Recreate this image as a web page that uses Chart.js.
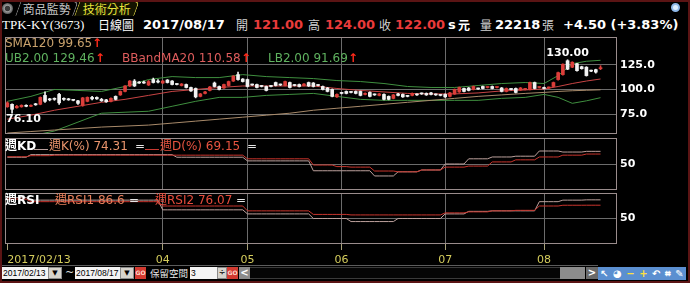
<!DOCTYPE html>
<html lang="zh-Hant">
<head>
<meta charset="UTF-8">
<title>TPK-KY(3673) 日線圖</title>
<script src="https://cdn.jsdelivr.net/npm/chart.js"></script>
<style>
  html, body { margin: 0; padding: 0; background: #000; }
  body { position: relative; width: 690px; height: 283px; overflow: hidden; font-family: "DejaVu Sans", Verdana, sans-serif; }
  .frame { position: absolute; left: 0; top: 0; width: 690px; height: 283px; box-sizing: border-box; border: 2px solid #5b1414; pointer-events: none; }
  .pane { position: absolute; left: 0; }
  .t { position: absolute; white-space: nowrap; line-height: 14px; font-size: 12px; }
  .cjk { font-family: "Noto Sans CJK TC", sans-serif; }
  .b { font-weight: bold; }
  .title { font-size: 13px; top: 18px; }
  .gray { color: #d2d2d2; }
  .red { color: #ea3b3b; }
  .white { color: #fff; }
  .up { color: #ff2a1a; font-weight: bold; }
  .tab { position: absolute; top: 1px; height: 14px; border: 1px solid; border-bottom: none; border-radius: 0 5px 0 0; transform: skewX(-20deg); font: 12px "Noto Sans CJK TC", sans-serif; line-height: 14px; }
  .tab span { display: block; transform: skewX(20deg); text-align: center; }
  .sw { position: absolute; height: 1px; }
  .box { position: absolute; top: 267px; height: 12px; background: #f4f4f4; color: #000; font: 8.5px "Liberation Sans", Arial, sans-serif; line-height: 12px; padding-left: 1px; box-sizing: border-box; overflow: hidden; }
  .dd { position: absolute; top: 267px; width: 14px; height: 12px; background: #d6d3cc; border: 1px solid #8a8a8a; box-sizing: border-box; font-size: 7px; text-align: center; line-height: 10px; color: #000; }
  .go { position: absolute; top: 267px; width: 11px; height: 12px; background: #d23a30; color: #ffd6c8; font: bold 6px "DejaVu Sans", sans-serif; line-height: 12px; text-align: center; }
  .gb { position: absolute; top: 267px; height: 12px; background: #8c8c8c; color: #fff; font: bold 10px "DejaVu Sans", sans-serif; line-height: 12px; text-align: center; }
  .icons { position: absolute; left: 598px; top: 267px; width: 88px; height: 13px; background: #5b8fd0; color: #fff; font: bold 10px "DejaVu Sans", sans-serif; line-height: 13px; display: flex; justify-content: space-around; }
</style>
</head>
<body>

<div class="pane" style="top:37px"><canvas id="mainChart" width="690" height="97"></canvas></div>
<div class="pane" style="top:138px"><canvas id="kdChart" width="690" height="52"></canvas></div>
<div class="pane" style="top:193px"><canvas id="rsiChart" width="690" height="70"></canvas></div>

<!-- tab bar -->
<div style="position:absolute;left:2px;top:3px;width:11px;height:11px;border-radius:50%;background:radial-gradient(circle,#3a3a3a 30%,#9a9a9a 40%,#5a5a5a 70%);"></div>
<div class="tab" style="left:18px;width:56px;color:#c4c4c4;border-color:#8a8a8a;"><span>商品監勢</span></div>
<div class="tab" style="left:77px;width:58px;color:#e8e43c;border-color:#c8c040;background:#141400;"><span>技術分析</span></div>
<div style="position:absolute;left:671px;top:3px;width:9px;height:9px;border-radius:50%;border:2px solid #8fb8e8;background:#dfefff;box-sizing:border-box;"></div>

<!-- title row -->
<div class="t title white" style="left:2px;font-family:'Liberation Serif',serif;font-size:13px;">TPK-KY(3673)</div>
<div class="t title white cjk" style="left:98px;font-size:12px;">日線圖</div>
<div class="t title white b" style="left:143px;">2017/08/17</div>
<div class="t title gray cjk" style="left:236px;font-size:12px;">開</div>
<div class="t title red b" style="left:253px;">121.00</div>
<div class="t title gray cjk" style="left:308px;font-size:12px;">高</div>
<div class="t title red b" style="left:325px;">124.00</div>
<div class="t title gray cjk" style="left:379px;font-size:12px;">收</div>
<div class="t title red b" style="left:395px;">122.00</div>
<div class="t title white b" style="left:448px;">s</div>
<div class="t title white cjk b" style="left:458px;font-size:12px;">元</div>
<div class="t title gray cjk" style="left:480px;font-size:12px;">量</div>
<div class="t title white b" style="left:495px;">22218</div>
<div class="t title gray cjk" style="left:542px;font-size:12px;">張</div>
<div class="t title white b" style="left:563px;">+4.50 (+3.83%)</div>

<!-- main panel legends -->
<div class="t" style="left:5px;top:36px;color:#c9a26c;">SMA120 99.65</div>
<div class="t up" style="left:92px;top:36px;">↑</div>
<div class="t" style="left:5px;top:51px;color:#5fb25f;">UB2.00 129.46</div>
<div class="t up" style="left:95px;top:51px;">↑</div>
<div class="t" style="left:122px;top:51px;color:#de5c5c;">BBandMA20 110.58</div>
<div class="t up" style="left:241px;top:51px;">↑</div>
<div class="t" style="left:268px;top:51px;color:#5fb25f;">LB2.00 91.69</div>
<div class="t up" style="left:348px;top:51px;">↑</div>

<!-- KD legends -->
<div class="t white b" style="left:5px;top:139px;font-family:'DejaVu Sans','Noto Sans CJK TC',sans-serif;">週KD</div>
<div class="sw" style="left:34px;top:149px;width:14px;background:#b8a09c;"></div>
<div class="t" style="left:49px;top:139px;color:#e8946c;font-family:'DejaVu Sans','Noto Sans CJK TC',sans-serif;">週K(%) 74.31</div>
<div class="t" style="left:135px;top:139px;color:#e6e6e6;">=</div>
<div class="sw" style="left:145px;top:149px;width:14px;background:#c83a32;"></div>
<div class="t" style="left:160px;top:139px;color:#e85440;font-family:'DejaVu Sans','Noto Sans CJK TC',sans-serif;">週D(%) 69.15</div>
<div class="t" style="left:247px;top:139px;color:#e6e6e6;">=</div>

<!-- RSI legends -->
<div class="t white b" style="left:5px;top:193px;font-family:'DejaVu Sans','Noto Sans CJK TC',sans-serif;">週RSI</div>
<div class="t" style="left:55px;top:193px;color:#e8805c;font-family:'DejaVu Sans','Noto Sans CJK TC',sans-serif;">週RSI1 86.6</div>
<div class="t" style="left:129px;top:193px;color:#e6e6e6;">=</div>
<div class="t" style="left:155px;top:193px;color:#e84c3c;font-family:'DejaVu Sans','Noto Sans CJK TC',sans-serif;">週RSI2 76.07</div>
<div class="t" style="left:236px;top:193px;color:#e6e6e6;">=</div>

<!-- bottom toolbar -->
<div style="position:absolute;left:0;top:265px;width:598px;height:1px;background:#5c5c5c;"></div>
<div class="box" style="left:2px;width:47px;">2017/02/13</div>
<div class="dd" style="left:48px;">▼</div>
<div class="t" style="left:65px;top:266px;color:#ddd;font-size:11px;">~</div>
<div class="box" style="left:75px;width:46px;">2017/08/17</div>
<div class="dd" style="left:120px;">▼</div>
<div class="go" style="left:135px;">GO</div>
<div class="t cjk" style="left:150px;top:266px;color:#e8e8e8;font-size:9.5px;">保留空間</div>
<div class="box" style="left:190px;width:27px;">3</div>
<div class="dd" style="left:217px;width:10px;font-size:8px;">÷</div>
<div class="go" style="left:227px;">GO</div>
<div class="gb" style="left:239px;width:11px;">&lt;</div>
<div style="position:absolute;left:250px;top:267px;width:310px;height:12px;background:#050505;border-top:1px solid #3a3a3a;border-bottom:1px solid #3a3a3a;box-sizing:border-box;"></div>
<div style="position:absolute;left:560px;top:267px;width:25px;height:12px;background:#8c8c8c;"></div>
<div class="gb" style="left:586px;width:12px;background:#6a6a6a;">&gt;</div>
<div class="icons"><span>↖</span><span>◕</span><span style="color:#ffe040">−</span><span style="color:#ffe040">+</span><span>↶</span><span>⌗</span><span>✎</span></div>

<div class="frame"></div>

<script>
// trading days, Feb 13 - Aug 17 2017
const febDays = [13,14,15,16,17,20,21,22,23,24];
const marDays = [1,2,3,6,7,8,9,10,13,14,15,16,17,20,21,22,23,24,27,28,29,30,31];
const aprDays = [5,6,7,10,11,12,13,14,17,18,19,20,21,24,25,26,27,28];
const mayDays = [2,3,4,5,8,9,10,11,12,15,16,17,18,19,22,23,24,25,26,31];
const junDays = [1,2,5,6,7,8,9,12,13,14,15,16,19,20,21,22,23,26,27,28,29,30];
const julDays = [3,4,5,6,7,10,11,12,13,14,17,18,19,20,21,24,25,26,27,28,31];
const augDays = [1,2,3,4,7,8,9,10,11,14,15,16,17];

// daily OHLC
const opens = [
  82.5, 85, 81.5, 82.5, 84, 83, 85.5, 85, 94, 90,
  90.5, 95, 90.5, 90, 89.5, 88.5, 84, 88, 92, 92,
  90, 89.5, 88, 93, 94.5, 98, 103.5, 108.5, 107.5, 107.5,
  104.5, 110, 108.5, 106.5, 109.5, 108.5, 105.5, 104, 105, 102,
  101, 93, 96, 99, 106.5, 103, 101.5, 104, 108.5, 115,
  110.5, 110, 105, 105, 103.5, 103, 103.5, 107, 105, 104,
  107, 104.5, 105, 104, 107, 106.5, 104.5, 103, 101.5, 100,
  92.5, 96.5, 98, 97.5, 98, 98, 95, 97, 95, 94,
  95, 93, 91, 95.5, 95, 93.5, 94, 95, 96, 96,
  96.5, 95, 94.5, 95, 93, 95.5, 97.5, 101, 101.5, 100,
  101, 103, 102, 103, 102, 101.5, 98, 100.5, 101, 99.5,
  100, 100, 107, 102, 102, 101.5, 103, 110, 115, 129,
  122.5, 126, 123, 122.5, 119, 120, 121
];
const highs = [
  87.5, 85.5, 84, 84.5, 84.5, 84.5, 86, 92.5, 97.5, 91,
  91.5, 96, 91.5, 91, 90, 89, 92, 92.5, 93, 92.5,
  91, 90, 91.5, 93.5, 98.5, 104, 109, 110, 108, 108.5,
  109, 111.5, 110, 109, 110, 109, 106, 106, 105.5, 102.5,
  101.5, 96, 98, 103, 107.5, 103.5, 105.5, 108.5, 114, 117.5,
  111, 110.5, 105.5, 105.5, 104, 103.5, 104, 107.5, 105.5, 108.5,
  107.5, 105, 105.5, 106, 107.5, 107, 105, 103.5, 102, 100.5,
  95.5, 97, 98.5, 98, 98.5, 98.5, 96.5, 97.5, 95.5, 96,
  95.5, 93.5, 95, 96, 95.5, 94, 96.5, 95.5, 96.5, 96.5,
  97, 95.5, 95, 95.5, 97, 100.5, 102.5, 101.5, 102, 103.5,
  101.5, 103.5, 102.5, 103.5, 102.5, 102, 101.5, 101, 101.5, 102,
  101, 107.5, 107.5, 102.5, 102.5, 102.5, 107.5, 117.5, 126, 130,
  128, 126.5, 123.5, 123, 119.5, 120.5, 124
];
const lows = [
  82, 76.1, 81, 82, 82.5, 82.5, 84, 84.5, 87, 88.5,
  89, 85, 89, 89, 88.5, 85, 83, 87.5, 89.5, 90,
  88, 87, 87.5, 89.5, 94, 97.5, 103, 103, 106, 106,
  104, 106.5, 106.5, 106, 106.5, 104.5, 104.5, 103.5, 101.5, 98,
  91.5, 92.5, 95.5, 98.5, 102.5, 99.5, 101, 103.5, 108, 109.5,
  107.5, 102.5, 104, 101.5, 102.5, 98.5, 102.5, 103.5, 104, 103.5,
  101.5, 103.5, 102.5, 103.5, 103, 102.5, 103.5, 99.5, 97.5, 92.5,
  92, 95.5, 95.5, 96.5, 95.5, 93.5, 94.5, 92.5, 94, 93.5,
  89.5, 89.5, 90.5, 93.5, 92, 92.5, 93.5, 94, 95, 94,
  94.5, 94, 93.5, 92, 92.5, 95, 97, 97.5, 98.5, 99.5,
  100, 100.5, 101.5, 100.5, 101.5, 97.5, 97.5, 99.5, 96.5, 99,
  99.5, 99.5, 100.5, 101.5, 100.5, 101, 102.5, 109.5, 114.5, 120,
  122, 118.5, 120.5, 113.5, 118, 116.5, 120
];
const closes = [
  86.5, 80, 83, 84, 83, 84, 84.5, 92, 88, 89.5,
  90, 86.5, 90, 89.5, 89, 86, 91.5, 92, 90.5, 90.5,
  88.5, 87.5, 91, 90, 98, 103.5, 108.5, 103.5, 106.5, 106.5,
  108, 107, 107.5, 108.5, 107, 105, 105, 105.5, 102, 98.5,
  92.5, 95.5, 97.5, 102.5, 103, 100, 105, 108, 113.5, 110,
  108, 103, 104.5, 102, 103, 99, 103, 104, 104.5, 108,
  102, 104, 103, 105.5, 103.5, 103, 104, 100, 98, 93,
  95, 96, 96, 97, 96, 94, 96, 93, 94.5, 95.5,
  90, 90, 94.5, 94, 92.5, 93, 96, 94.5, 95.5, 94.5,
  95, 94.5, 94, 92.5, 96.5, 100, 102, 98, 99, 103,
  100.5, 101, 102, 101, 102, 98, 101, 100, 97, 101.5,
  100.5, 107, 101, 102, 101, 102, 107, 117, 125.5, 120.5,
  127.5, 119, 121, 114, 118.5, 117.5, 122
];

// indicator lines read at these day indices
const lineIdx = [0, 5, 10, 15, 20, 25, 30, 35, 40, 45, 50, 55, 60, 65, 70, 75, 80, 85, 90, 95, 100, 105, 110, 114, 117, 120, 123, 126];
const ma20   = [70, 74, 79, 83, 87, 90, 94, 98, 100, 102, 103.5, 103.5, 103.5, 103.5, 101, 99, 97.5, 96, 95.5, 95.5, 96.5, 98.5, 99.5, 100.5, 103, 106, 108.5, 110.58];
const ub     = [88, 93, 100, 99, 98, 103, 110, 113, 112, 112, 115, 113, 112, 111, 109, 108, 106, 103, 102, 102, 104, 106, 107, 106, 114, 126, 128.5, 129.46];
const lb     = [52, 53, 58, 67, 76, 77, 78, 83, 88, 92, 92, 94, 95, 96, 93, 90, 89, 89, 89, 89, 89, 91, 92, 95, 92, 86, 88.5, 91.69];
const sma120 = [56, 57.5, 59, 60.5, 62, 63, 64, 66, 68, 70, 72, 74, 76, 79, 81, 83, 85, 87, 89, 91, 93, 94.5, 96, 97, 98, 98.7, 99.2, 99.65];

// weekly indicators, one value per trading week
const kWeekly    = [63, 68, 68, 68, 68, 68, 68, 68, 63, 63, 63, 56, 56, 56, 37, 37, 37, 27, 35, 38.5, 50, 60, 63.5, 65, 75, 73, 74.31];
const dWeekly    = [64, 66, 67, 67, 67, 67, 67, 67, 67, 67, 67, 60, 60, 60, 48, 45, 44, 36.5, 35, 38.5, 44, 46, 54, 58, 63.5, 67, 69.15];
const rsi1Weekly = [91, 86, 86, 86, 86, 86, 86, 67, 67, 67, 67, 59, 59, 59, 50, 50, 44, 44, 50, 50, 59, 64, 65, 65, 83, 86, 86.6];
const rsi2Weekly = [88, 83, 83, 83, 83, 83, 83, 74.5, 74.5, 74.5, 74.5, 65, 65, 65, 58, 58, 57, 57, 57, 57, 61, 63, 65, 66, 74.5, 76, 76.07];

const priceTicks = [75, 100, 125];
const oscTicks = [50];

// ---- derived ----
const pad = n => String(n).padStart(2, '0');
const days = [[2, febDays], [3, marDays], [4, aprDays], [5, mayDays], [6, junDays], [7, julDays], [8, augDays]]
  .flatMap(([m, ds]) => ds.map(d => ({ m, d })));
const dates = days.map(({ m, d }) => `2017/${pad(m)}/${pad(d)}`);

// month boundaries; one too close to the first date label is left out
const monthStarts = [];
days.forEach((p, i) => { if (i > 12 && p.m !== days[i - 1].m) monthStarts.push(i); });
const lastIdx = dates.length - 1;
const tickIdx = [0, ...monthStarts, lastIdx];

// week number for every day (new week when the Monday changes)
const weekOf = [];
let wk = -1, lastMon = null;
days.forEach(({ m, d }) => {
  const dt = new Date(2017, m - 1, d);
  const mon = new Date(dt); mon.setDate(dt.getDate() - ((dt.getDay() + 6) % 7));
  const key = mon.toDateString();
  if (key !== lastMon) { wk++; lastMon = key; }
  weekOf.push(wk);
});
const daily = arr => dates.map((_, i) => ({ x: i, y: arr[weekOf[i]] }));
const sampled = arr => lineIdx.map((x, k) => ({ x, y: arr[k] }));

const UP = '#dc3e3a', DOWN = '#f2f2f2';
const candleColor = closes.map((c, i) => c >= opens[i] ? UP : DOWN);

const GRID = '#6c6c6c';
const FRAME = '#9a8c8c';
Chart.defaults.font.family = '"DejaVu Sans", Verdana, sans-serif';

const panelFrame = {
  id: 'panelFrame',
  afterDraw(chart) {
    const { ctx, chartArea: a } = chart;
    ctx.save();
    ctx.strokeStyle = FRAME;
    ctx.lineWidth = 1;
    ctx.strokeRect(a.left + 0.5, a.top + 0.5, a.right - a.left - 1, a.bottom - a.top - 1);
    ctx.restore();
  }
};

const extremeLabels = {
  id: 'extremeLabels',
  afterDatasetsDraw(chart) {
    const { ctx, chartArea, scales: { x, y } } = chart;
    const hi = Math.max(...highs), lo = Math.min(...lows);
    ctx.save();
    ctx.font = 'bold 11px "DejaVu Sans", Verdana, sans-serif';
    ctx.fillStyle = '#ffffff';
    ctx.textAlign = 'center';
    ctx.textBaseline = 'bottom';
    ctx.fillText(hi.toFixed(2), x.getPixelForValue(highs.indexOf(hi)), y.getPixelForValue(hi) - 1);
    const t = lo.toFixed(2);
    const w = ctx.measureText(t).width;
    ctx.textAlign = 'left';
    ctx.textBaseline = 'top';
    ctx.fillText(t, Math.max(chartArea.left + 1, x.getPixelForValue(lows.indexOf(lo)) - w / 2), y.getPixelForValue(lo) + 1);
    ctx.restore();
  }
};

const gridFor = c => (c.tick && monthStarts.includes(c.tick.value)) ? GRID : 'rgba(0,0,0,0)';

function xAxis(withLabels) {
  return {
    type: 'linear', min: -0.5, max: 129.5, offset: false,
    afterBuildTicks: ax => { ax.ticks = tickIdx.map(v => ({ value: v })); },
    afterFit: ax => { ax.paddingLeft = 0; ax.paddingRight = 0; ax.height = withLabels ? 19 : 0; },
    grid: {
      offset: false, color: gridFor, lineWidth: 1,
      drawTicks: withLabels, tickLength: 6,
      tickColor: c => (c.tick && c.tick.value !== lastIdx) ? '#a8a27a' : 'rgba(0,0,0,0)'
    },
    border: { display: false },
    ticks: {
      display: withLabels, autoSkip: false, maxRotation: 0, minRotation: 0, align: 'inner',
      color: '#d4cc5c', padding: 4, font: { size: 11 },
      callback: v => v === 0 ? dates[0] : (monthStarts.includes(v) ? pad(days[v].m) : '')
    }
  };
}

function yAxis(min, max, ticks, fmt) {
  return {
    type: 'linear', position: 'right', min, max,
    afterBuildTicks: ax => { ax.ticks = ticks.map(v => ({ value: v })); },
    afterFit: ax => { ax.width = 73; ax.paddingTop = 0; ax.paddingBottom = 0; },
    grid: { color: GRID, drawTicks: false },
    border: { display: false },
    ticks: { color: '#ffffff', padding: 3, font: { size: 11, weight: 'bold' }, callback: fmt }
  };
}

const baseOptions = (xa, ya) => ({
  responsive: false,
  animation: false,
  layout: { padding: { left: 5, right: 0, top: 0, bottom: 0 } },
  plugins: { legend: { display: false }, tooltip: { enabled: false } },
  elements: { point: { radius: 0 }, line: { borderWidth: 1, tension: 0 } },
  scales: { x: xa, y: ya }
});

const lineDs = (data, color, order) => ({ type: 'line', data, borderColor: color, borderWidth: 1, pointRadius: 0, fill: false, order });

new Chart(document.getElementById('mainChart'), {
  type: 'line',
  data: {
    datasets: [
      {
        type: 'bar', order: 0, grouped: false, barThickness: 3, minBarLength: 1,
        data: opens.map((o, i) => ({ x: i, y: [o, closes[i]] })),
        backgroundColor: candleColor
      },
      {
        type: 'bar', order: 1, grouped: false, barThickness: 1,
        data: lows.map((l, i) => ({ x: i, y: [l, highs[i]] })),
        backgroundColor: candleColor
      },
      lineDs(sampled(sma120), '#a88a6a', 2),
      lineDs(sampled(ub), '#3f8f3f', 2),
      lineDs(sampled(lb), '#3f8f3f', 2),
      lineDs(sampled(ma20), '#c84444', 2)
    ]
  },
  options: baseOptions(xAxis(false), yAxis(55, 153, priceTicks, v => v.toFixed(1))),
  plugins: [panelFrame, extremeLabels]
});

new Chart(document.getElementById('kdChart'), {
  type: 'line',
  data: {
    datasets: [
      lineDs(daily(kWeekly), '#bca09c', 1),
      lineDs(daily(dWeekly), '#c8342c', 0)
    ]
  },
  options: baseOptions(xAxis(false), yAxis(0, 100, oscTicks, v => String(v))),
  plugins: [panelFrame]
});

new Chart(document.getElementById('rsiChart'), {
  type: 'line',
  data: {
    datasets: [
      lineDs(daily(rsi1Weekly), '#bca09c', 1),
      lineDs(daily(rsi2Weekly), '#c8342c', 0)
    ]
  },
  options: baseOptions(xAxis(true), yAxis(0, 100, oscTicks, v => String(v))),
  plugins: [panelFrame]
});
</script>
</body>
</html>
